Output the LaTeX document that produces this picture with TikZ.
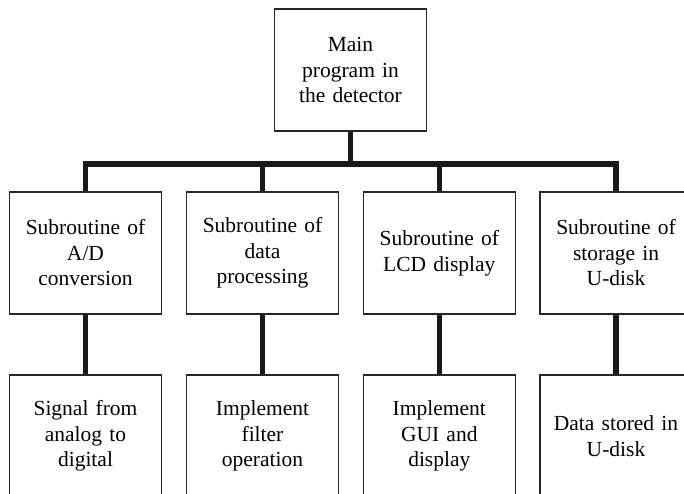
\documentclass[tikz,border=0pt]{standalone}
\usepackage{fontspec}
\setmainfont{Liberation Serif}[WordSpace=0.8]
\begin{document}
\begin{tikzpicture}[x=1pt,y=1pt,
  box/.style={draw=black!85,line width=1.4pt,minimum width=152pt,minimum height=122pt,
    text width=148pt,align=center,inner sep=0pt,
    font=\fontsize{21.5}{25.5}\selectfont},
  bus/.style={draw=black!90,line width=5.5pt}]
\useasboundingbox (0,0) rectangle (684,493);
\clip (0,0) rectangle (684,493);
% top
\node[box] (main) at (350.5,423) {Main\\program in\\the detector};
% second row
\node[box] (s1) at (85.5,240) {Subroutine of\\A/D\\conversion};
\node[box] (s2) at (262.5,240) {Subroutine of\\data\\processing};
\node[box] (s3) at (439.3,240) {Subroutine of\\LCD display};
\node[box] (s4) at (616,240) {Subroutine of\\storage in\\U-disk};
% third row
\node[box] (b1) at (85.5,57) {Signal from\\analog to\\digital};
\node[box] (b2) at (262.5,57) {Implement\\filter\\operation};
\node[box] (b3) at (439.3,57) {Implement\\GUI and\\display};
\node[box] (b4) at (616,57) {Data stored in\\U-disk};
% bus
\coordinate (j) at (350.5,329);
\draw[bus] (main.south) -- (j);
\draw[bus] (s1.north) |- (j) -| (s4.north);
\draw[bus] (s2.north) -- (s2.north |- j);
\draw[bus] (s3.north) -- (s3.north |- j);
\draw[bus] (s1) -- (b1);
\draw[bus] (s2) -- (b2);
\draw[bus] (s3) -- (b3);
\draw[bus] (s4) -- (b4);
\end{tikzpicture}
\end{document}
